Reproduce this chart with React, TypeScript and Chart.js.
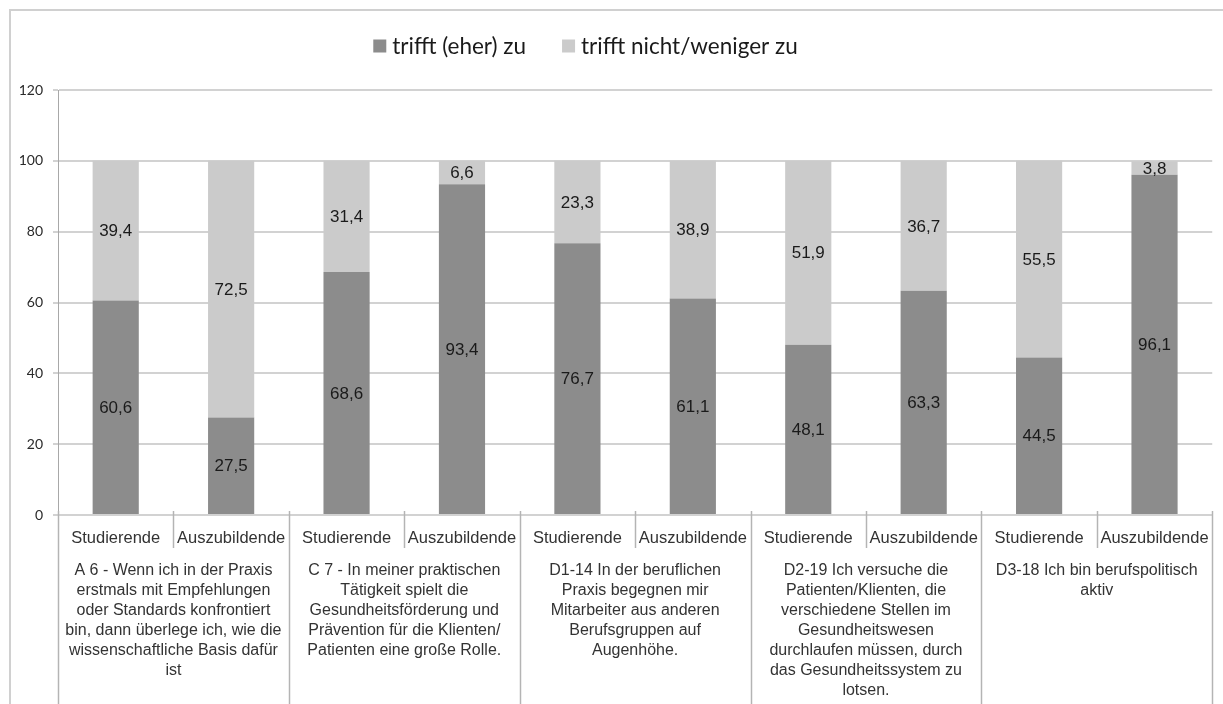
import React, { useEffect, useRef } from "react";
import { Chart, registerables } from "chart.js";

Chart.register(...registerables);

const categories = [
  "Studierende", "Auszubildende",
  "Studierende", "Auszubildende",
  "Studierende", "Auszubildende",
  "Studierende", "Auszubildende",
  "Studierende", "Auszubildende",
];

const agreeValues = [60.6, 27.5, 68.6, 93.4, 76.7, 61.1, 48.1, 63.3, 44.5, 96.1];
const disagreeValues = [39.4, 72.5, 31.4, 6.6, 23.3, 38.9, 51.9, 36.7, 55.5, 3.8];

const seriesLabels = ["trifft (eher) zu", "trifft nicht/weniger zu"];
const seriesColors = ["#8c8c8c", "#cbcbcb"];

const groupLabels: string[][] = [
  [
    "A 6 - Wenn ich in der Praxis",
    "erstmals mit Empfehlungen",
    "oder Standards konfrontiert",
    "bin, dann überlege ich, wie die",
    "wissenschaftliche Basis dafür",
    "ist",
  ],
  [
    "C 7 - In meiner praktischen",
    "Tätigkeit spielt die",
    "Gesundheitsförderung und",
    "Prävention für die Klienten/",
    "Patienten eine große Rolle.",
  ],
  [
    "D1-14 In der beruflichen",
    "Praxis begegnen mir",
    "Mitarbeiter aus anderen",
    "Berufsgruppen auf",
    "Augenhöhe.",
  ],
  [
    "D2-19 Ich versuche die",
    "Patienten/Klienten, die",
    "verschiedene Stellen im",
    "Gesundheitswesen",
    "durchlaufen müssen, durch",
    "das Gesundheitssystem zu",
    "lotsen.",
  ],
  ["D3-18 Ich bin berufspolitisch", "aktiv"],
];

const yMin = 0;
const yMax = 120;
const yStep = 20;

const fmt = (v: number) => v.toFixed(1).replace(".", ",");

const framePlugin = {
  id: "frame",
  beforeDraw(chart: any) {
    const ctx = chart.ctx;
    ctx.save();
    ctx.fillStyle = "#ffffff";
    ctx.fillRect(0, 0, chart.width, chart.height);
    ctx.strokeStyle = "#d0d0d0";
    ctx.lineWidth = 2;
    ctx.beginPath();
    ctx.moveTo(10, chart.height + 5);
    ctx.lineTo(10, 10);
    ctx.lineTo(chart.width + 5, 10);
    ctx.stroke();
    ctx.restore();
  },
};

const legendPlugin = {
  id: "customLegend",
  afterDraw(chart: any) {
    const ctx = chart.ctx;
    ctx.save();
    ctx.font = "22.5px Lato";
    ctx.textBaseline = "middle";
    ctx.textAlign = "left";
    const box = 13;
    const gap = 6;
    const itemGap = 36;
    const widths = chart.data.datasets.map((d: any) => ctx.measureText(d.label).width);
    const total =
      widths.reduce((a: number, w: number) => a + box + gap + w, 0) +
      itemGap * (widths.length - 1);
    let x = 585.5 - total / 2;
    const cy = 46;
    chart.data.datasets.forEach((d: any, i: number) => {
      ctx.fillStyle = d.backgroundColor;
      ctx.fillRect(x, cy - box / 2, box, box);
      ctx.fillStyle = "#1a1a1a";
      ctx.fillText(d.label, x + box + gap, cy + 1);
      x += box + gap + widths[i] + itemGap;
    });
    ctx.restore();
  },
};

const dataLabelPlugin = {
  id: "segLabels",
  afterDatasetsDraw(chart: any) {
    const ctx = chart.ctx;
    ctx.save();
    ctx.font = "17px 'Liberation Sans'";
    ctx.fillStyle = "#1a1a1a";
    ctx.textAlign = "center";
    ctx.textBaseline = "middle";
    chart.data.datasets.forEach((ds: any, i: number) => {
      const meta = chart.getDatasetMeta(i);
      meta.data.forEach((bar: any, j: number) => {
        const { x, y, base } = bar.getProps(["x", "y", "base"], true);
        ctx.fillText(fmt(ds.data[j]), x, (y + base) / 2 + 1);
      });
    });
    ctx.restore();
  },
};

const groupPlugin = {
  id: "groups",
  afterDraw(chart: any) {
    const ctx = chart.ctx;
    const xs = chart.scales.x;
    const area = chart.chartArea;
    const n = chart.data.labels.length;
    const step = xs.getPixelForValue(1) - xs.getPixelForValue(0);
    ctx.save();
    ctx.strokeStyle = "#b4b4b4";
    ctx.lineWidth = 1.5;
    for (let i = 0; i <= n; i++) {
      const bx = Math.round(xs.getPixelForValue(0) - step / 2 + i * step) + 0.5;
      const isGroup = i % 2 === 0;
      ctx.beginPath();
      ctx.moveTo(bx, area.bottom - 4);
      ctx.lineTo(bx, isGroup ? chart.height : area.bottom + 33);
      ctx.stroke();
    }
    ctx.font = "16px 'Liberation Sans'";
    ctx.fillStyle = "#333333";
    ctx.textAlign = "center";
    ctx.textBaseline = "middle";
    groupLabels.forEach((lines, g) => {
      const cx = (xs.getPixelForValue(2 * g) + xs.getPixelForValue(2 * g + 1)) / 2;
      lines.forEach((line, k) => {
        ctx.fillText(line, cx, 571 + k * 20);
      });
    });
    ctx.restore();
  },
};

export default function App() {
  const ref = useRef<HTMLCanvasElement | null>(null);

  useEffect(() => {
    if (!ref.current) return;
    const chart = new Chart(ref.current, {
      type: "bar",
      data: {
        labels: categories,
        datasets: [
          {
            label: seriesLabels[0],
            data: agreeValues,
            backgroundColor: seriesColors[0],
            categoryPercentage: 0.8,
            barPercentage: 0.5,
          },
          {
            label: seriesLabels[1],
            data: disagreeValues,
            backgroundColor: seriesColors[1],
            categoryPercentage: 0.8,
            barPercentage: 0.5,
          },
        ],
      },
      options: {
        responsive: false,
        animation: false,
        events: [],
        layout: { padding: { top: 90, left: 0, right: 7, bottom: 0 } },
        plugins: {
          legend: { display: false },
          tooltip: { enabled: false },
          title: { display: false },
        },
        scales: {
          x: {
            stacked: true,
            offset: true,
            grid: { display: false, drawTicks: false },
            border: { display: false },
            ticks: {
              autoSkip: false,
              maxRotation: 0,
              minRotation: 0,
              padding: 14,
              color: "#333333",
              font: { family: "'Liberation Sans'", size: 16.5 },
            },
            afterFit(scale: any) {
              scale.height = 189;
            },
          },
          y: {
            stacked: true,
            min: yMin,
            max: yMax,
            ticks: {
              stepSize: yStep,
              padding: 10,
              color: "#2a2a2a",
              font: { family: "Lato", size: 14 },
            },
            grid: { color: "#d2d2d2", lineWidth: 2, tickLength: 5 },
            border: { color: "#a8a8a8", width: 1 },
            afterFit(scale: any) {
              scale.width = 58;
            },
          },
        },
      },
      plugins: [framePlugin, dataLabelPlugin, groupPlugin, legendPlugin],
    });
    return () => chart.destroy();
  }, []);

  return (
    <div
      style={{
        position: "fixed",
        left: 0,
        top: 0,
        width: 1223,
        height: 704,
        background: "#ffffff",
      }}
    >
      <canvas ref={ref} width={1223} height={704} style={{ display: "block" }} />
    </div>
  );
}
